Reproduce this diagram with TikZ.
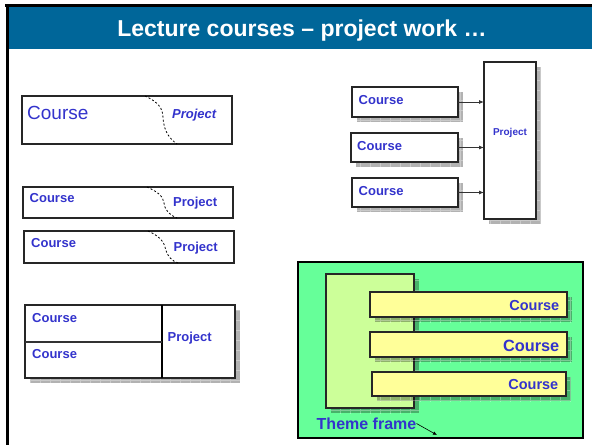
\documentclass[tikz,border=0pt]{standalone}
\usepackage{fontspec}
\setmainfont{Liberation Sans}
\usetikzlibrary{arrows.meta}

\definecolor{headblue}{RGB}{0,102,153}
\definecolor{txtblue}{RGB}{51,51,204}
\definecolor{framegreen}{RGB}{102,255,153}
\definecolor{themegreen}{RGB}{204,255,153}
\definecolor{baryellow}{RGB}{255,255,153}

% soft grey drop shadow with a faint grid, offset 5 units down-right
\newcommand\castshadow[4]{%
  \begin{scope}
    \clip (#1+5,#2+5) rectangle (#3+5,#4+5);
    \fill[black,opacity=.3] (#1+5,#2+5) rectangle (#3+5,#4+5);
    \draw[white,opacity=.3,line width=.6pt,step=10pt] (#1,#4+10) grid (#3+10,#2);
  \end{scope}}

% labels are centred on their capital height (0.716 of the font size)
\tikzset{
  box/.style={draw=black!85, line width=1.1pt, fill=white, inner sep=0pt, outer sep=0pt, anchor=north west},
  lbl/.style={text=txtblue, inner sep=0pt, text depth=0pt, yshift=-.5pt},
  lblb/.style={lbl, font=\bfseries\fontsize{13}{15}\selectfont, text height=9.3pt},
  seam/.style={black, line width=.8pt, dash pattern=on 2pt off 2pt},
  arr/.style={black!80, line width=.8pt, -{Latex[length=5pt,width=4pt]}},
}

\begin{document}
\begin{tikzpicture}[x=1pt,y=-1pt]
\useasboundingbox (0,0) rectangle (592,445);
\fill[white] (0,0) rectangle (592,445);

% slide frame and title bar
\fill[black] (5,4) rectangle (592,7);
\fill[black] (6,4) rectangle (9,445);
\fill[headblue] (9,7) rectangle (592,49);
\node[font=\bfseries\fontsize{23}{26}\selectfont, text=white, inner sep=0pt, text height=16.5pt, text depth=0pt] (title) at (302,28.5) {Lecture courses – project work …};

% course fading into project, large
\node[box, minimum width=210pt, minimum height=48pt] (b1) at (22,96) {};
\draw[seam] (145,96) .. controls (158,102) and (163,108) .. (163,118) .. controls (164,132) and (170,139) .. (177,144);
\node[lbl, anchor=west, font=\fontsize{19}{22}\selectfont, text height=13.6pt] (b1c) at (27,112.5) {Course};
\node[lbl, anchor=west, font=\bfseries\itshape\fontsize{13}{15}\selectfont, text height=9.3pt] (b1p) at (172,113) {Project};

% two smaller variants
\node[box, minimum width=210pt, minimum height=31pt] (b2) at (23,187) {};
\draw[seam] (147,187) .. controls (158,192) and (163,196) .. (164,203) .. controls (165,211) and (170,215) .. (177,218);
\node[lblb, anchor=west] (b2c) at (29.5,197.5) {Course};
\node[lblb, anchor=west] (b2p) at (173,201.5) {Project};

\node[box, minimum width=210pt, minimum height=32pt] (b3) at (24,231) {};
\draw[seam] (148,231) .. controls (159,236) and (164,241) .. (165.5,249) .. controls (167,256) and (172,261) .. (178,263);
\node[lblb, anchor=west] (b3c) at (31,242.5) {Course};
\node[lblb, anchor=west] (b3p) at (173.5,246.5) {Project};

% two courses beside one project
\castshadow{25}{305}{235}{378}
\node[box, minimum width=210pt, minimum height=73pt] (tab) at (25,305) {};
\draw[black, line width=1.1pt] (162,305) -- (162,378);
\draw[black!80, line width=1.3pt] (25,342) -- (162,342);
\node[lblb, anchor=west] (tc1) at (32,317.5) {Course};
\node[lblb, anchor=west] (tc2) at (32,353.5) {Course};
\node[lblb, anchor=west] (tp) at (167.5,336.5) {Project};

% three courses feeding one project
\castshadow{484}{62}{536}{219}
\castshadow{352}{87}{458}{117}
\castshadow{351}{133}{458}{162}
\castshadow{352}{178}{458}{207}
\node[box, minimum width=52pt, minimum height=157pt] (proj) at (484,62) {};
\node[box, minimum width=106pt, minimum height=30pt] (c1) at (352,87) {};
\node[box, minimum width=107pt, minimum height=29pt] (c2) at (351,133) {};
\node[box, minimum width=106pt, minimum height=29pt] (c3) at (352,178) {};
\node[lblb, anchor=west] (c1t) at (358.5,99.5) {Course};
\node[lblb, anchor=west] (c2t) at (357,145) {Course};
\node[lblb, anchor=west] (c3t) at (358.5,190) {Course};
\node[lbl, font=\bfseries\fontsize{10}{12}\selectfont, text height=7.2pt] (projt) at (510,131.5) {Project};
\draw[arr] (c1.east) -- (c1.east -| proj.west);
\draw[arr] (c2.east) -- (c2.east -| proj.west);
\draw[arr] (c3.east) -- (c3.east -| proj.west);

% theme frame holding courses
\node[draw=black, line width=1.6pt, fill=framegreen, inner sep=0pt, anchor=north west, minimum width=285pt, minimum height=176pt] (frame) at (297,261) {};
\castshadow{326}{274}{414}{408}
\node[box, fill=themegreen, minimum width=88pt, minimum height=134pt] (theme) at (326,274) {};
\castshadow{370}{292}{567}{317}
\node[box, fill=baryellow, minimum width=197pt, minimum height=25pt] (bar1) at (370,292) {};
\castshadow{370}{332}{567}{357}
\node[box, fill=baryellow, minimum width=197pt, minimum height=25pt] (bar2) at (370,332) {};
\castshadow{372}{372}{566}{396}
\node[box, fill=baryellow, minimum width=194pt, minimum height=24pt] (bar3) at (372,372) {};
\node[lbl, anchor=east, font=\bfseries\fontsize{14.5}{17}\selectfont, text height=10.4pt] (bar1t) at (559.5,305) {Course};
\node[lbl, anchor=east, font=\bfseries\fontsize{16.3}{19}\selectfont, text height=11.7pt] (bar2t) at (559.5,345.5) {Course};
\node[lbl, anchor=east, font=\bfseries\fontsize{14.5}{17}\selectfont, text height=10.4pt] (bar3t) at (558.5,384) {Course};
\node[lbl, anchor=west, font=\bfseries\fontsize{16}{19}\selectfont, text height=11.5pt] (tflabel) at (316.5,423) {Theme frame};
\coordinate (tfend) at (437,435);
\draw[black, line width=.6pt, -{Latex[length=4pt,width=3.5pt]}] (tflabel.east) -- (tfend);
\end{tikzpicture}
\end{document}
